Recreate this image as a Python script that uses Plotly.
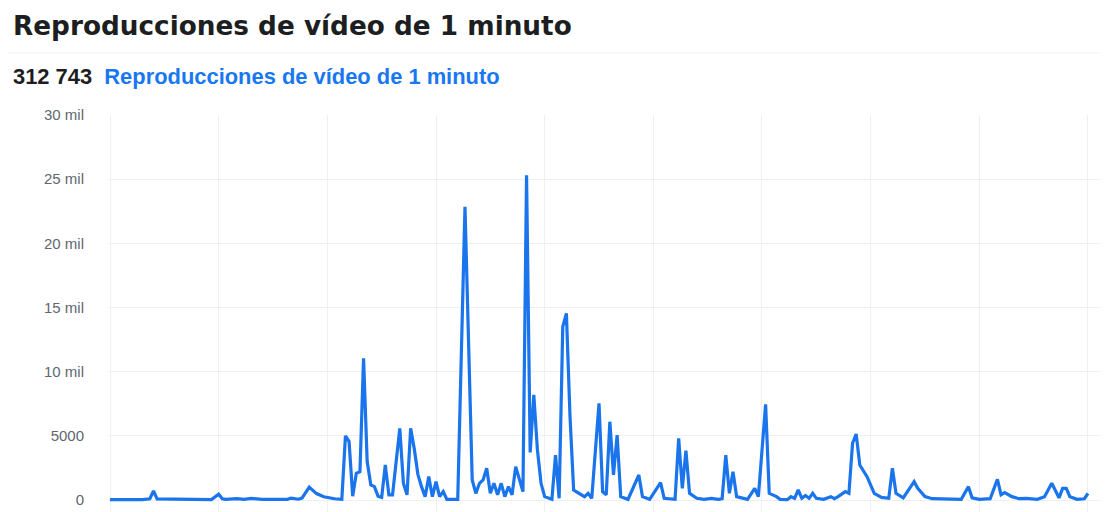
import plotly.graph_objects as go

# ---- data ----
days = [0, 9, 11, 12, 13, 20, 28, 30, 31, 32, 35, 37, 39, 42, 49, 50, 52, 53, 55, 57,
        59, 62, 64, 65, 66, 67, 68, 69, 70, 71, 72, 73, 74, 75, 76, 77, 78, 80, 81, 82,
        83, 84, 85, 86, 87, 88, 89, 90, 91, 92, 93, 96, 98, 100, 101, 102, 103, 104, 105, 106,
        107, 108, 109, 110, 111, 112, 113, 114, 115, 116, 117, 118, 119, 120, 122, 123, 124, 125, 126, 127,
        128, 131, 132, 133, 135, 136, 137, 138, 139, 140, 141, 143, 146, 147, 149, 152, 153, 156, 157, 158,
        159, 160, 162, 164, 166, 168, 169, 170, 171, 172, 173, 176, 178, 179, 181, 182, 184, 185, 187, 188,
        189, 190, 191, 192, 193, 194, 195, 197, 199, 200, 201, 203, 204, 205, 206, 207, 209, 210, 211, 213,
        215, 216, 217, 219, 222, 223, 225, 227, 231, 235, 237, 238, 240, 243, 245, 246, 247, 249, 251, 253,
        256, 258, 260, 262, 263, 264, 265, 267, 269, 270]
views = [30, 30, 100, 700, 80, 30, 30, 450, 100, 50, 100, 50, 120, 50, 50, 150, 60, 150, 1000, 500,
         250, 100, 50, 5000, 4550, 300, 2080, 2200, 11050, 3000, 1170, 1040, 300, 200, 2730, 400, 400, 5580, 1300, 400,
         5580, 4000, 2000, 1040, 260, 1820, 260, 1430, 260, 650, 50, 50, 22850, 1560, 520, 1300, 1560, 2470, 520, 1300,
         400, 1300, 260, 1040, 400, 2600, 1560, 650, 25300, 3700, 8200, 3900, 1300, 260, 50, 3500, 130, 13500, 14540, 6500,
         780, 260, 520, 130, 7530, 650, 400, 6100, 1950, 5060, 260, 50, 1950, 260, 50, 1350, 130, 50, 4800, 910,
         3840, 520, 130, 50, 130, 50, 100, 3500, 520, 2200, 260, 50, 910, 260, 7450, 520, 260, 50, 30, 260,
         130, 780, 130, 350, 130, 520, 130, 50, 260, 100, 260, 650, 520, 4420, 5140, 2730, 1820, 1170, 520, 200,
         130, 2470, 520, 170, 1430, 910, 260, 100, 50, 50, 1040, 170, 50, 100, 1610, 400, 570, 260, 100, 130,
         50, 260, 1300, 170, 910, 910, 260, 50, 100, 520]

y_tick_vals = [0, 5000, 10000, 15000, 20000, 25000, 30000]
y_tick_text = ["0", "5000", "10 mil", "15 mil", "20 mil", "25 mil", "30 mil"]

title_text = "Reproducciones de vídeo de 1 minuto"
total_text = "312 743"
series_name = "Reproducciones de vídeo de 1 minuto"

BLUE = "#1a74ec"
# the page body adds an 8px margin, so the figure is 8px smaller than the window
W, H = 1101, 504
L, R, T, B = 101, 4, 107, 0
PH = H - T - B
PW = W - L - R

fig = go.Figure()
fig.add_trace(go.Scatter(
    x=days, y=views, mode="lines", name=series_name,
    line=dict(color=BLUE, width=3.2, shape="linear"),
    hoverinfo="x+y",
))


def px_to_paper_y(ypx):
    return 1 - (ypx - T) / PH


def px_to_paper_x(xpx):
    return (xpx - L) / PW


fig.update_layout(
    width=W, height=H,
    margin=dict(l=L, r=R, t=T, b=B, pad=0),
    paper_bgcolor="white", plot_bgcolor="white",
    showlegend=False,
    font=dict(family="Liberation Sans, Arial, sans-serif"),
    xaxis=dict(range=[-0.28, 274.7], tick0=0, dtick=30, showticklabels=False,
               showgrid=True, gridcolor="#eeeff1", gridwidth=1, zeroline=False,
               showline=False, ticks=""),
    yaxis=dict(range=[-935, 30000], tickvals=y_tick_vals, ticktext=y_tick_text,
               showgrid=True, gridcolor="#eeeff1", gridwidth=1, zeroline=False,
               showline=False, ticks="", ticklabelstandoff=24,
               tickfont=dict(size=15, color="#606770", family="Liberation Sans, Arial, sans-serif")),
    shapes=[
        dict(type="line", xref="paper", yref="paper",
             x0=px_to_paper_x(-8), x1=px_to_paper_x(W), y0=px_to_paper_y(45), y1=px_to_paper_y(45),
             line=dict(color="#f2f3f5", width=1)),
    ],
    annotations=[
        dict(text="<b>" + title_text + "</b>", xref="paper", yref="paper",
             x=px_to_paper_x(3), y=px_to_paper_y(18), xanchor="left", yanchor="middle",
             showarrow=False, font=dict(size=26.3, color="#1c1e21", family="DejaVu Sans, sans-serif")),
        dict(text="<b>" + total_text + "&nbsp; <span style='color:#1877F2'>" + series_name + "</span></b>",
             xref="paper", yref="paper",
             x=px_to_paper_x(3), y=px_to_paper_y(68), xanchor="left", yanchor="middle",
             showarrow=False, font=dict(size=21.9, color="#1c1e21")),
    ],
)

fig.write_html("out.html")
